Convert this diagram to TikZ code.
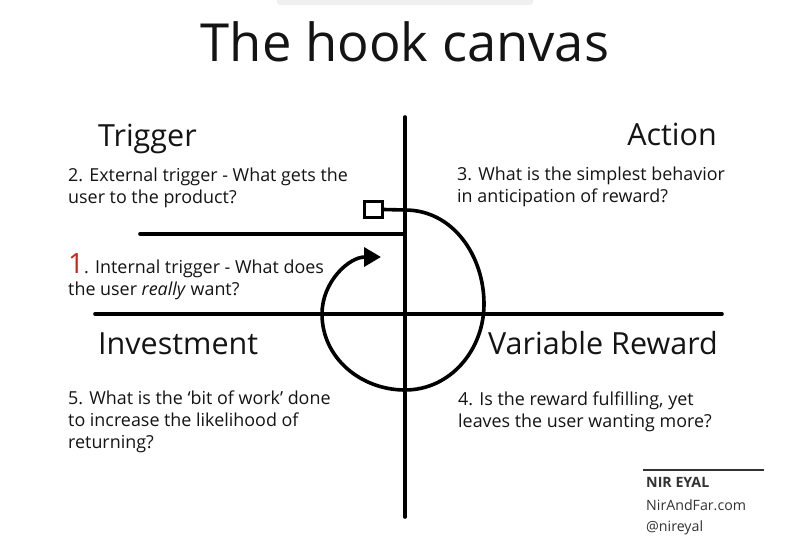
\documentclass[tikz,border=0pt]{standalone}
\usepackage{fontspec}
\setmainfont{Open Sans}
\usetikzlibrary{arrows.meta}
\definecolor{inkred}{RGB}{205,35,30}
\definecolor{ink}{RGB}{20,20,20}
\definecolor{sig}{RGB}{50,50,50}
\tikzset{
  rough/.style={line width=3.6pt, draw=black, line cap=round},
  titletext/.style={font=\fontsize{52.5}{56}\selectfont, text=ink, inner sep=0pt},
  headtext/.style={font=\fontsize{30.5}{34}\selectfont, text=ink, inner sep=0pt},
  bodytext/.style={font=\fontsize{17.9}{22}\selectfont, text=ink, inner sep=0pt, align=left, anchor=base west},
  sigtext/.style={font=\fontsize{14.2}{17}\selectfont, text=sig, inner sep=0pt, anchor=base west},
}
\begin{document}
\begin{tikzpicture}[x=1pt,y=1pt]
\useasboundingbox (0,0) rectangle (800,550);
\fill[white] (0,0) rectangle (800,550);
\fill[black!6, rounded corners=3pt] (277,545) rectangle (533,556);

% title
\node[titletext, anchor=base] (title) at (405,488) {The hook canvas};

% axes
\coordinate (vtop) at (405,433);
\coordinate (vbot) at (405,33);
\coordinate (hleft) at (95,236);
\coordinate (hright) at (722,236);
\coordinate (sleft) at (140,316);
\coordinate (sright) at (405,316);
\draw[rough] (vtop) -- (vbot);
\draw[rough] (hleft) -- (hright);
\draw[rough] (sleft) -- (sright);

% hook loop
\node[draw=black, line width=2.6pt, minimum width=18pt, minimum height=16pt, inner sep=0pt] (sq) at (373.5,340.5) {};
\coordinate (ctop) at (405,340);
\coordinate (cright) at (484,246);
\coordinate (cbot) at (405,160);
\coordinate (cleft) at (322,236);
\coordinate (tip) at (381,293);
\draw[rough, -{Triangle[length=17pt,width=19pt]}] (sq.east) -- (ctop)
  to[out=0,in=90] (cright) to[out=-90,in=0] (cbot)
  to[out=180,in=-90] (cleft) to[out=90,in=180] (tip);

% headings
\node[headtext, anchor=base west] (trigger) at (98,403) {Trigger};
\node[headtext, anchor=base east] (action) at (717,404) {Action};
\node[headtext, anchor=base west] (invest) at (98,196) {Investment};
\node[headtext, anchor=base east] (reward) at (718,196) {Variable Reward};

% body texts (anchored at the baseline of the last line)
\node[bodytext] (q2) at (68,347) {2. External trigger - What gets the\\user to the product?};
\node[bodytext] (q3) at (457,348) {3. What is the simplest behavior\\in anticipation of reward?};
\node[bodytext] (q1) at (68,255) {{\color{inkred}\fontsize{28}{28}\selectfont 1}. Internal trigger - What does\\the user \textit{really} want?};
\node[bodytext] (q5) at (68,102) {5. What is the ‘bit of work’ done\\to increase the likelihood of\\returning?};
\node[bodytext] (q4) at (458,123) {4. Is the reward fulfilling, yet\\leaves the user wanting more?};

% signature
\coordinate (sigl) at (643,80);
\coordinate (sigr) at (764,80);
\draw[sig, line width=1.6pt] (sigl) -- (sigr);
\node[sigtext, font=\fontsize{14.2}{17}\selectfont\bfseries] (name) at (646,63) {NIR EYAL};
\node[sigtext] (site) at (646,40) {NirAndFar.com};
\node[sigtext] (handle) at (646,19) {@nireyal};
\end{tikzpicture}
\end{document}
